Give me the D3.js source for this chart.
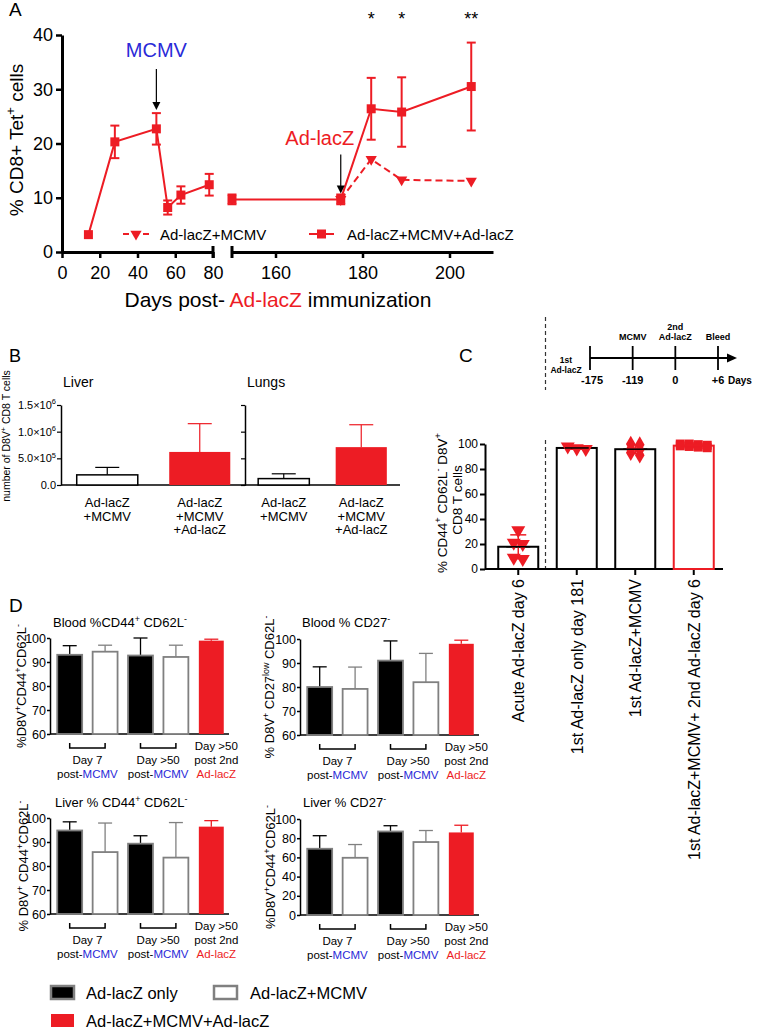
<!DOCTYPE html>
<html><head><meta charset="utf-8">
<script src="https://cdn.jsdelivr.net/npm/d3@7"></script>
<style>
body{margin:0;background:#fff}
svg{display:block}
text{font-family:"Liberation Sans",Arial,Helvetica,sans-serif}
</style>
</head><body><svg id="c" width="758" height="1030"></svg>
<script>
// ================= DATA =================
// Panel A
const daysEarly = [14, 28, 50, 56, 63, 78];
const tetEarly = [3.2, 20.3, 22.7, 8.2, 10.5, 12.4];
const tetEarlyErr = [0, 3.0, 2.9, 1.3, 1.6, 2.0];
const daysLate = [150, 175, 182, 189, 205];
const tetLate = [9.7, 9.7, 26.4, 25.8, 30.5];
const tetLateErr = [0.9, 0.9, 5.7, 6.4, 8.1];
const daysMcmvOnly = [175, 182, 189, 205];
const tetMcmvOnly = [9.7, 17.1, 13.3, 13.1];
const sigDays = [182, 189, 205];
const sigMarks = ["*", "*", "**"];
const xTicksEarly = [0, 20, 40, 60, 80];
const xTicksLate = [160, 180, 200];
const yTicksA = [0, 10, 20, 30, 40];
const legendA = ["Ad-lacZ+MCMV", "Ad-lacZ+MCMV+Ad-lacZ"];

// Panel B
const groupsB = ["Ad-lacZ|+MCMV", "Ad-lacZ|+MCMV|+Ad-lacZ"];
const liverCounts = [0.19e6, 0.62e6];
const liverErr = [0.14e6, 0.53e6];
const lungCounts = [0.12e6, 0.71e6];
const lungErr = [0.09e6, 0.42e6];
const yTicksB = [0, 5e5, 1e6, 1.5e6];
const yTickLabelsB = ["0.0", "5.0×10^5", "1.0×10^6", "1.5×10^6"];

// Panel C
const timelineLabels = ["-175", "-119", "0", "+6"];
const timelineEvents = [["1st", "Ad-lacZ"], ["MCMV"], ["2nd", "Ad-lacZ"], ["Bleed"]];
const groupsC = ["Acute Ad-lacZ day 6", "1st Ad-lacZ only day 181", "1st Ad-lacZ+MCMV", "1st Ad-lacZ+MCMV+ 2nd Ad-lacZ day 6"];
const pointsC = [
  [31, 21, 20, 9, 8],
  [98, 96.5, 96],
  [100, 99.5, 96, 95.5, 93, 91],
  [100, 100, 99.5, 99, 98.5, 98, 97.5, 97]
];
const markersC = ["tri", "tri", "diamond", "square"];
const yTicksC = [0, 20, 40, 60, 80, 100];

// Panel D
const kindsD = ["only", "mcmv", "only", "mcmv", "boost"];
const bloodCD44 = [93.0, 94.3, 92.7, 92.1, 98.9];
const bloodCD44Err = [3.8, 2.7, 7.3, 4.9, 0.6];
const bloodCD27 = [80.0, 79.2, 91.0, 82.0, 98.0];
const bloodCD27Err = [8.4, 9.1, 8.2, 12.0, 1.5];
const liverCD44 = [94.8, 85.8, 89.3, 83.5, 96.4];
const liverCD44Err = [3.6, 12.1, 3.3, 14.6, 2.5];
const liverCD27 = [69.0, 59.6, 87.0, 76.0, 86.0];
const liverCD27Err = [13.6, 13.8, 6.0, 12.0, 7.5];
const yTicksD1 = [60, 70, 80, 90, 100];
const yTicksD2 = [0, 20, 40, 60, 80, 100];
const legendD = ["Ad-lacZ only", "Ad-lacZ+MCMV", "Ad-lacZ+MCMV+Ad-lacZ"];

// ================= DRAWING =================
const RED = "#ed1c24", BLUE = "#2a2ad8", GREY = "#808080";
const svg = d3.select("#c");
svg.append("rect").attr("width", 758).attr("height", 1030).attr("fill", "#fff");

function rich(t, str, fs) {
  const re = /\^\{([^}]*)\}|\^(.)/g;
  let last = 0, m; const parts = [];
  while ((m = re.exec(str))) {
    if (m.index > last) parts.push({t: str.slice(last, m.index), s: false});
    parts.push({t: m[1] !== undefined ? m[1] : m[2], s: true});
    last = re.lastIndex;
  }
  if (last < str.length) parts.push({t: str.slice(last), s: false});
  let up = false;
  parts.forEach(p => {
    const ts = t.append("tspan").text(p.t);
    if (p.s) { ts.attr("font-size", fs * 0.68); if (!up) { ts.attr("dy", -fs * 0.42); up = true; } }
    else if (up) { ts.attr("dy", fs * 0.42); up = false; }
  });
  return t;
}
function styleAxis(g, fs, sw, tw) {
  g.attr("font-size", fs).attr("font-family", null);
  g.select(".domain").attr("stroke-width", sw);
  g.selectAll(".tick line").attr("stroke-width", tw == null ? sw : tw);
  g.selectAll(".tick text").attr("fill", "#000");
}
const sym = {
  tri: d3.symbol().type(d3.symbolTriangle),
  square: d3.symbol().type(d3.symbolSquare),
  diamond: d3.symbol().type(d3.symbolDiamond)
};

// ---------- Panel A ----------
{
  const g = svg.append("g");
  const yA = d3.scaleLinear().domain([0, 40]).range([252, 35]);
  const x1 = d3.scaleLinear().domain([0, 80]).range([62, 213]);
  const x2 = d3.scaleLinear().domain([150, 210]).range([232, 493]);
  const xOf = d => d <= 80 ? x1(d) : x2(d);

  g.append("text").attr("x", 9).attr("y", 16).attr("font-size", 19).text("A");

  const ya = g.append("g").attr("transform", "translate(62,0)")
    .call(d3.axisLeft(yA).tickValues(yTicksA).tickSize(6).tickPadding(3).tickSizeOuter(0));
  styleAxis(ya, 18, 3, 2.5);
  const xa1 = g.append("g").attr("transform", "translate(0,252)")
    .call(d3.axisBottom(x1).tickValues(xTicksEarly).tickSize(6).tickPadding(8).tickSizeOuter(0));
  styleAxis(xa1, 18, 3, 2.5);
  const xa2 = g.append("g").attr("transform", "translate(0,252)")
    .call(d3.axisBottom(x2).tickValues(xTicksLate).tickSize(6).tickPadding(8).tickSizeOuter(0));
  styleAxis(xa2, 18, 3, 2.5);
  [x1(80), x2(150)].forEach(x => g.append("line").attr("x1", x).attr("x2", x)
    .attr("y1", 246).attr("y2", 258).attr("stroke", "#000").attr("stroke-width", 3));

  const yt = g.append("text").attr("transform", "translate(23,140) rotate(-90)")
    .attr("text-anchor", "middle").attr("font-size", 19);
  rich(yt, "% CD8+ Tet^+ cells", 19);
  const xt = g.append("text").attr("x", 278).attr("y", 307).attr("text-anchor", "middle").attr("font-size", 21);
  xt.append("tspan").text("Days post- ");
  xt.append("tspan").attr("fill", RED).text("Ad-lacZ");
  xt.append("tspan").text(" immunization");

  const early = daysEarly.map((d, i) => ({d, v: tetEarly[i], e: tetEarlyErr[i]}));
  const late = daysLate.map((d, i) => ({d, v: tetLate[i], e: tetLateErr[i]}));
  const dash = daysMcmvOnly.map((d, i) => ({d, v: tetMcmvOnly[i]}));
  const line = d3.line().x(p => xOf(p.d)).y(p => yA(p.v));

  g.append("path").datum(dash).attr("d", line).attr("fill", "none").attr("stroke", RED)
    .attr("stroke-width", 2).attr("stroke-dasharray", "7,4");
  dash.forEach(p => g.append("path").attr("d", sym.tri.size(55)())
    .attr("transform", `translate(${xOf(p.d)},${yA(p.v)}) rotate(180)`).attr("fill", RED));
  [early, late].forEach(s => {
    g.append("path").datum(s).attr("d", line).attr("fill", "none").attr("stroke", RED).attr("stroke-width", 2);
    s.forEach(p => {
      const x = xOf(p.d);
      if (p.e > 0) {
        g.append("line").attr("x1", x).attr("x2", x).attr("y1", yA(p.v - p.e)).attr("y2", yA(p.v + p.e))
          .attr("stroke", RED).attr("stroke-width", 2);
        [p.v - p.e, p.v + p.e].forEach(v => g.append("line").attr("x1", x - 4.5).attr("x2", x + 4.5)
          .attr("y1", yA(v)).attr("y2", yA(v)).attr("stroke", RED).attr("stroke-width", 2));
      }
      g.append("rect").attr("x", x - 4.5).attr("y", yA(p.v) - 4.5).attr("width", 9).attr("height", 9).attr("fill", RED);
    });
  });

  function arrow(x, yTop, yTip) {
    g.append("line").attr("x1", x).attr("x2", x).attr("y1", yTop).attr("y2", yTip - 6).attr("stroke", "#000").attr("stroke-width", 1.2);
    g.append("path").attr("d", `M${x - 4},${yTip - 8}L${x + 4},${yTip - 8}L${x},${yTip}Z`).attr("fill", "#000");
  }
  const mTip = yA(tetEarly[2] + tetEarlyErr[2]) - 3;
  arrow(x1(50), mTip - 41, mTip);
  g.append("text").attr("x", x1(50)).attr("y", 57).attr("text-anchor", "middle").attr("font-size", 20).attr("fill", BLUE).text("MCMV");
  const aTip = yA(tetLate[1] + tetLateErr[1]) - 1;
  arrow(x2(175), aTip - 39, aTip);
  g.append("text").attr("x", x2(175) - 21).attr("y", 145).attr("text-anchor", "middle").attr("font-size", 20).attr("fill", RED).text("Ad-lacZ");
  sigDays.forEach((d, i) => g.append("text").attr("x", x2(d)).attr("y", 25).attr("text-anchor", "middle")
    .attr("font-size", 18).text(sigMarks[i]));

  const ly = 234;
  g.append("line").attr("x1", 123).attr("x2", 149).attr("y1", ly).attr("y2", ly).attr("stroke", RED).attr("stroke-width", 2).attr("stroke-dasharray", "6,4");
  g.append("path").attr("d", sym.tri.size(55)()).attr("transform", `translate(136,${ly}) rotate(180)`).attr("fill", RED);
  g.append("text").attr("x", 160).attr("y", ly + 6).attr("font-size", 15).text(legendA[0]);
  g.append("line").attr("x1", 309).attr("x2", 334).attr("y1", ly).attr("y2", ly).attr("stroke", RED).attr("stroke-width", 2);
  g.append("rect").attr("x", 317).attr("y", ly - 4.5).attr("width", 9).attr("height", 9).attr("fill", RED);
  g.append("text").attr("x", 347).attr("y", ly + 6).attr("font-size", 15).text(legendA[1]);
}

// ---------- Panel B ----------
{
  const g = svg.append("g");
  const yB = d3.scaleLinear().domain([0, 1.5e6]).range([485, 405]);
  g.append("text").attr("x", 9).attr("y", 362).attr("font-size", 18).text("B");
  const yt = g.append("text").attr("transform", "translate(10,436) rotate(-90)").attr("text-anchor", "middle").attr("font-size", 10.5);
  rich(yt, "number of D8V^+ CD8 T cells", 10.5);

  const panels = [
    {name: "Liver", vals: liverCounts, errs: liverErr, range: [61, 246], ax: 61, labels: true},
    {name: "Lungs", vals: lungCounts, errs: lungErr, range: [245, 400], ax: 245, labels: false}
  ];
  panels.forEach(P => {
    const x = d3.scaleBand().domain(groupsB).range(P.range).paddingInner(0.34).paddingOuter(0.17);
    g.append("text").attr("x", P.ax + 2).attr("y", 387).attr("font-size", 14).text(P.name);
    const ya = g.append("g").attr("transform", `translate(${P.ax},0)`)
      .call(d3.axisLeft(yB).tickValues(yTicksB).tickSize(4).tickFormat("").tickSizeOuter(0));
    styleAxis(ya, 11, 1.5, 1.2);
    if (P.labels) {
      yTicksB.forEach((v, i) => {
        const t = g.append("text").attr("x", P.ax - 5).attr("y", yB(v) + 4).attr("text-anchor", "end").attr("font-size", 11);
        rich(t, yTickLabelsB[i], 11);
      });
    }
    g.append("line").attr("x1", P.ax).attr("x2", P.range[1]).attr("y1", yB(0)).attr("y2", yB(0)).attr("stroke", "#000").attr("stroke-width", 1.5);
    groupsB.forEach((c, i) => {
      const bx = x(c), bw = x.bandwidth(), col = i === 1 ? RED : "#000";
      const top = yB(P.vals[i]), etop = yB(P.vals[i] + P.errs[i]);
      g.append("line").attr("x1", bx + bw / 2).attr("x2", bx + bw / 2).attr("y1", top).attr("y2", etop).attr("stroke", col).attr("stroke-width", 1.2);
      g.append("line").attr("x1", bx + bw / 2 - 12).attr("x2", bx + bw / 2 + 12).attr("y1", etop).attr("y2", etop).attr("stroke", col).attr("stroke-width", 1.2);
      g.append("rect").attr("x", bx).attr("y", top).attr("width", bw).attr("height", yB(0) - top)
        .attr("fill", i === 1 ? RED : "#fff").attr("stroke", i === 1 ? "none" : "#000").attr("stroke-width", 1.5);
      c.split("|").forEach((ln, k) => g.append("text").attr("x", bx + bw / 2).attr("y", 507 + k * 13.5)
        .attr("text-anchor", "middle").attr("font-size", 13).text(ln));
    });
  });
}

// ---------- Panel C ----------
{
  const g = svg.append("g");
  g.append("text").attr("x", 459).attr("y", 362).attr("font-size", 19).text("C");
  const xT = d3.scalePoint().domain(timelineLabels).range([590, 718]);
  const yT = 358;
  g.append("line").attr("x1", xT("-175")).attr("x2", 730).attr("y1", yT).attr("y2", yT).attr("stroke", "#000").attr("stroke-width", 1.8);
  g.append("path").attr("d", `M727,${yT - 4.5}L737,${yT}L727,${yT + 4.5}Z`).attr("fill", "#000");
  timelineLabels.forEach((l, i) => {
    const x = xT(l);
    g.append("line").attr("x1", x).attr("x2", x).attr("y1", yT - 12).attr("y2", yT + 12).attr("stroke", "#000").attr("stroke-width", 1.8);
    g.append("text").attr("x", x + (i === 0 ? 2 : 0)).attr("y", yT + 26).attr("text-anchor", "middle").attr("font-size", 11).attr("font-weight", "bold").text(l);
    const ev = timelineEvents[i];
    if (i === 0) {
      ev.forEach((s, k) => g.append("text").attr("x", x - 24).attr("y", yT + 5 + k * 9.5).attr("text-anchor", "middle").attr("font-size", 8.5).attr("font-weight", "bold").text(s));
    } else {
      ev.forEach((s, k) => g.append("text").attr("x", x).attr("y", yT - 18 - (ev.length - 1 - k) * 10).attr("text-anchor", "middle").attr("font-size", 9).attr("font-weight", "bold").text(s));
    }
  });
  g.append("text").attr("x", 728).attr("y", yT + 26).attr("font-size", 10).attr("font-weight", "bold").text("Days");

  const yC = d3.scaleLinear().domain([0, 100]).range([569, 444]);
  const xC = d3.scaleBand().domain(groupsC).range([489, 723]).paddingInner(0.316).paddingOuter(0.158);
  const sepX = (xC(groupsC[0]) + xC.bandwidth() + xC(groupsC[1])) / 2 - 2;
  g.append("line").attr("x1", sepX).attr("x2", sepX).attr("y1", 317).attr("y2", 390).attr("stroke", "#333").attr("stroke-width", 1.2).attr("stroke-dasharray", "4,3");
  g.append("line").attr("x1", sepX).attr("x2", sepX).attr("y1", 440).attr("y2", 568).attr("stroke", "#333").attr("stroke-width", 1.2).attr("stroke-dasharray", "4,3");

  const ya = g.append("g").attr("transform", "translate(485,0)")
    .call(d3.axisLeft(yC).tickValues(yTicksC).tickSize(5).tickPadding(2).tickSizeOuter(0));
  styleAxis(ya, 12, 2, 2);
  const xa = g.append("g").attr("transform", "translate(0,569)")
    .call(d3.axisBottom(xC).tickSize(6).tickFormat("").tickSizeOuter(0));
  styleAxis(xa, 12, 2, 2);
  xa.select(".domain").attr("d", "M485,0H723");
  const yt = g.append("text").attr("transform", "translate(447,503) rotate(-90)").attr("text-anchor", "middle").attr("font-size", 13.5);
  rich(yt, "% CD44^+ CD62L^- D8V^+", 13.5);
  g.append("text").attr("transform", "translate(462,500) rotate(-90)").attr("text-anchor", "middle").attr("font-size", 13.5).text("CD8 T cells");

  groupsC.forEach((c, i) => {
    const pts = pointsC[i];
    const mean = d3.mean(pts), sd = d3.deviation(pts);
    const bx = xC(c), bw = xC.bandwidth(), cx = bx + bw / 2;
    const col = i === 3 ? RED : "#000";
    g.append("rect").attr("x", bx).attr("y", yC(mean)).attr("width", bw).attr("height", yC(0) - yC(mean))
      .attr("fill", "#fff").attr("stroke", col).attr("stroke-width", 2);
    const sorted = pts.slice().sort((a, b) => b - a);
    const clusters = [];
    sorted.forEach(v => {
      const last = clusters[clusters.length - 1];
      if (last && last.length < 4 && Math.abs(yC(last[0]) - yC(v)) < 3.2) last.push(v); else clusters.push([v]);
    });
    clusters.forEach(cl => cl.forEach((v, k) => {
      const x = cx + (k - (cl.length - 1) / 2) * 9;
      const m = markersC[i];
      const s = m === "square" ? sym.square.size(80)() : m === "diamond" ? sym.diamond.size(80)() : sym.tri.size(85)();
      g.append("path").attr("d", s).attr("transform", `translate(${x},${yC(v)})${m === "tri" ? " rotate(180)" : ""}`).attr("fill", RED);
    }));
    g.append("line").attr("x1", cx).attr("x2", cx).attr("y1", yC(mean - sd)).attr("y2", yC(Math.min(mean + sd, 101))).attr("stroke", RED).attr("stroke-width", 1.5);
    [mean - sd, mean + sd].forEach(v => g.append("line").attr("x1", cx - 8).attr("x2", cx + 8).attr("y1", yC(v)).attr("y2", yC(v)).attr("stroke", RED).attr("stroke-width", 1.5));
    g.append("line").attr("x1", cx - 12).attr("x2", cx + 12).attr("y1", yC(mean)).attr("y2", yC(mean)).attr("stroke", col).attr("stroke-width", 1.5);
    g.append("text").attr("transform", `translate(${cx + 6},579) rotate(-90)`).attr("text-anchor", "end").attr("font-size", 16).text(c);
  });
}

// ---------- Panel D ----------
{
  const g = svg.append("g");
  g.append("text").attr("x", 9).attr("y", 612).attr("font-size", 19).text("D");
  const subs = [
    {title: "Blood %CD44^+ CD62L^-", ytitle: "%D8V^+CD44^+CD62L^-", vals: bloodCD44, errs: bloodCD44Err, ticks: yTicksD1, ax: 50, top: 638, base: 734, tx: 53, ty: 627, ytx: 26},
    {title: "Blood % CD27^-", ytitle: "% D8V^+ CD27^{low} CD62L^-", vals: bloodCD27, errs: bloodCD27Err, ticks: yTicksD1, ax: 300, top: 639, base: 735, tx: 302, ty: 627, ytx: 274},
    {title: "Liver % CD44^+ CD62L^-", ytitle: "% D8V^+ CD44^+CD62L^-", vals: liverCD44, errs: liverCD44Err, ticks: yTicksD1, ax: 50, top: 818, base: 914, tx: 55, ty: 807, ytx: 28},
    {title: "Liver % CD27^-", ytitle: "%D8V^+CD44^+CD62L^-", vals: liverCD27, errs: liverCD27Err, ticks: yTicksD2, ax: 300, top: 819, base: 915, tx: 303, ty: 807, ytx: 275}
  ];
  subs.forEach(S => {
    const y = d3.scaleLinear().domain(d3.extent(S.ticks)).range([S.base, S.top]);
    const x = d3.scaleBand().domain(kindsD.map((k, i) => i)).range([S.ax + 2, S.ax + 179]).paddingInner(0.296).paddingOuter(0.148);
    const t = g.append("text").attr("x", S.tx).attr("y", S.ty).attr("font-size", 13);
    rich(t, S.title, 13);
    const yt = g.append("text").attr("transform", `translate(${S.ytx},${(S.top + S.base) / 2}) rotate(-90)`).attr("text-anchor", "middle").attr("font-size", 13);
    rich(yt, S.ytitle, 13);
    const ya = g.append("g").attr("transform", `translate(${S.ax},0)`)
      .call(d3.axisLeft(y).tickValues(S.ticks).tickSize(3).tickPadding(1).tickSizeOuter(0));
    styleAxis(ya, 12.5, 1.5, 1.5);
    g.append("line").attr("x1", S.ax).attr("x2", S.ax + 179).attr("y1", S.base).attr("y2", S.base).attr("stroke", "#000").attr("stroke-width", 1.5);
    kindsD.forEach((k, i) => {
      const bx = x(i), bw = x.bandwidth(), cx = bx + bw / 2;
      const top = y(S.vals[i]), et = y(S.vals[i] + S.errs[i]);
      const ecol = k === "only" ? "#000" : k === "mcmv" ? GREY : RED;
      g.append("line").attr("x1", cx).attr("x2", cx).attr("y1", top).attr("y2", et).attr("stroke", ecol).attr("stroke-width", 1.3);
      g.append("line").attr("x1", cx - 7).attr("x2", cx + 7).attr("y1", et).attr("y2", et).attr("stroke", ecol).attr("stroke-width", 1.3);
      g.append("rect").attr("x", bx).attr("y", top).attr("width", bw).attr("height", S.base - top)
        .attr("fill", k === "only" ? "#000" : k === "mcmv" ? "#fff" : RED)
        .attr("stroke", k === "boost" ? "none" : GREY).attr("stroke-width", 1.8);
    });
    [[0, 1, "Day 7"], [2, 3, "Day >50"]].forEach(([a, b, lab]) => {
      const xa = x(a) + x.bandwidth() / 2, xb = x(b) + x.bandwidth() / 2, by = S.base + 14;
      g.append("path").attr("d", `M${xa},${by - 5}V${by}H${xb}V${by - 5}`).attr("fill", "none").attr("stroke", "#000").attr("stroke-width", 1.5);
      const mx = (xa + xb) / 2;
      g.append("text").attr("x", mx).attr("y", S.base + 30).attr("text-anchor", "middle").attr("font-size", 11.5).text(lab);
      const t2 = g.append("text").attr("x", mx).attr("y", S.base + 44).attr("text-anchor", "middle").attr("font-size", 11.5);
      t2.append("tspan").text("post-"); t2.append("tspan").attr("fill", BLUE).text("MCMV");
    });
    const rx = x(4) + x.bandwidth() / 2 + 5;
    ["Day >50", "post 2nd"].forEach((s, k) => g.append("text").attr("x", rx).attr("y", S.base + 16 + k * 14).attr("text-anchor", "middle").attr("font-size", 11.5).text(s));
    g.append("text").attr("x", rx).attr("y", S.base + 44).attr("text-anchor", "middle").attr("font-size", 11.5).attr("fill", RED).text("Ad-lacZ");
  });
  const L = [
    {x: 51, y: 986, fill: "#000", stroke: GREY, tx: 86},
    {x: 214, y: 986, fill: "#fff", stroke: GREY, tx: 250},
    {x: 51, y: 1014, fill: RED, stroke: "none", tx: 86}
  ];
  L.forEach((l, i) => {
    g.append("rect").attr("x", l.x).attr("y", l.y).attr("width", 23).attr("height", 13).attr("fill", l.fill).attr("stroke", l.stroke).attr("stroke-width", 2.5);
    g.append("text").attr("x", l.tx).attr("y", l.y + 13).attr("font-size", 16.5).text(legendD[i]);
  });
}
</script>
</body></html>
